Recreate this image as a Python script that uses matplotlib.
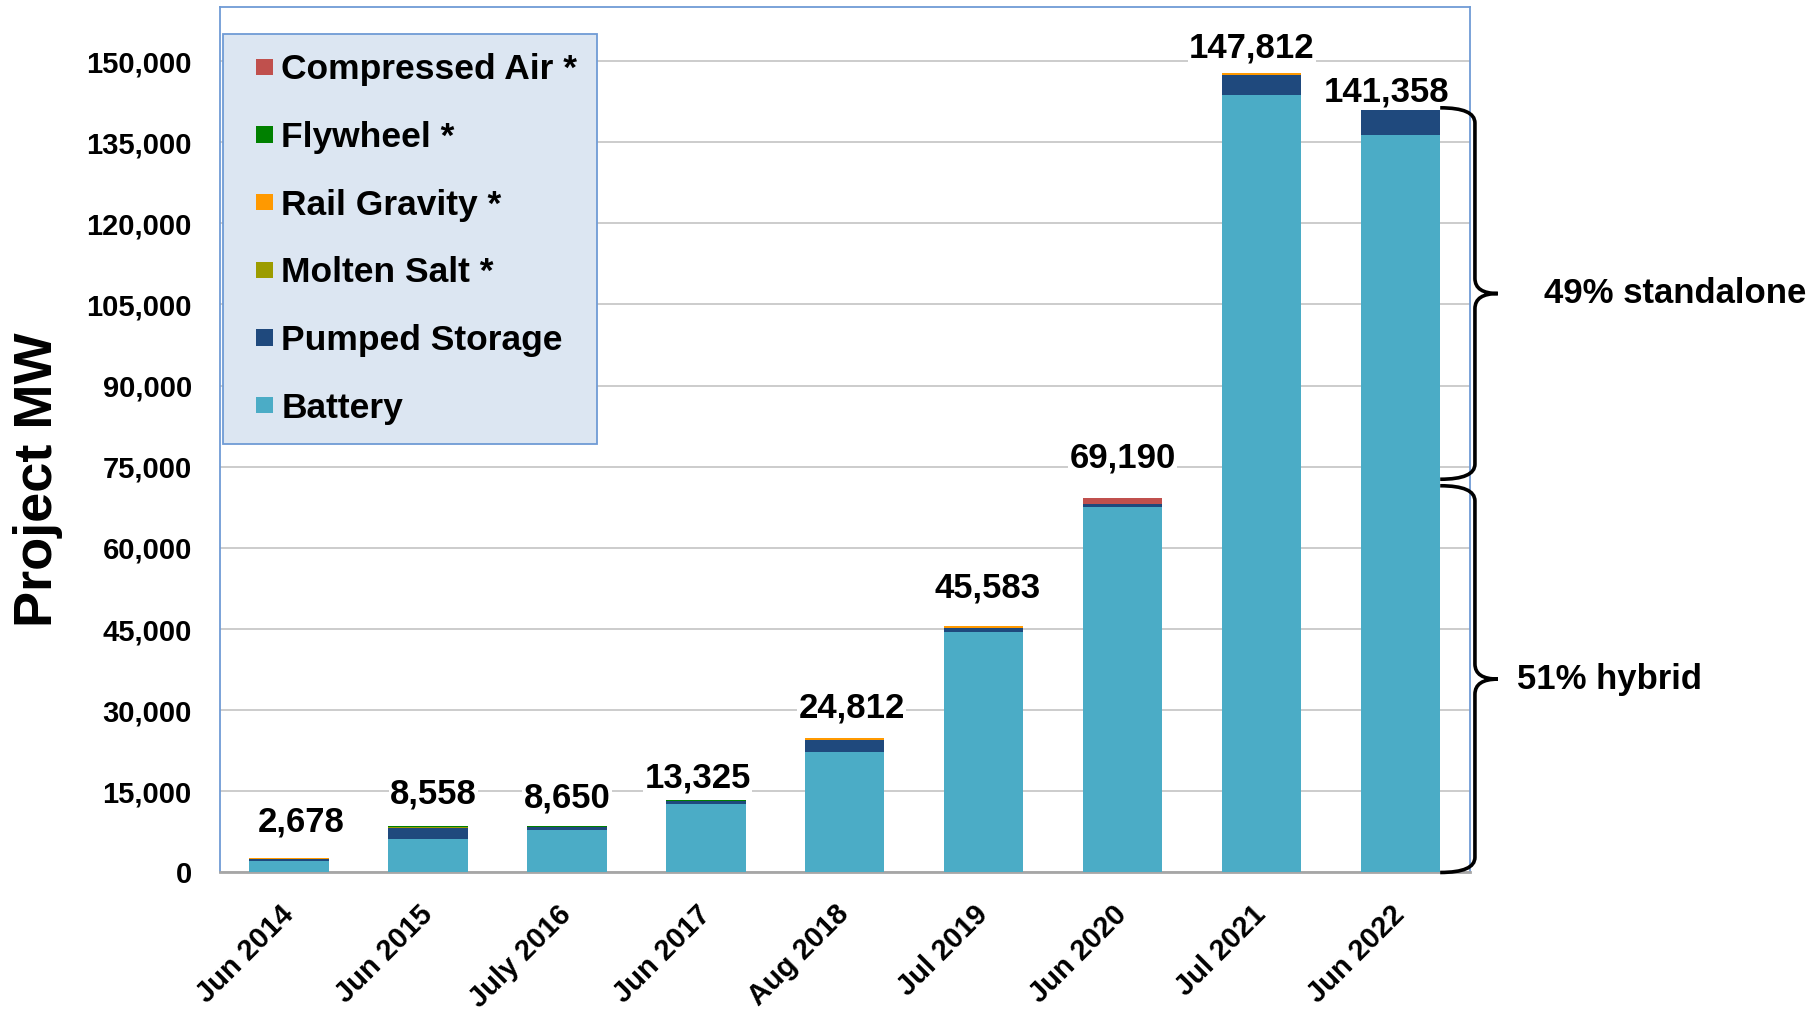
"""Stacked bar chart of energy storage project MW in the interconnection queue"""
import matplotlib.pyplot as plt
import numpy as np
from matplotlib import font_manager
from matplotlib.legend_handler import HandlerPatch
from matplotlib.patches import Patch, PathPatch, Rectangle
from matplotlib.path import Path

# Data
dates = ["Jun 2014", "Jun 2015", "July 2016", "Jun 2017", "Aug 2018",
         "Jul 2019", "Jun 2020", "Jul 2021", "Jun 2022"]
battery = [2130, 6200, 7860, 12600, 22200, 44500, 67630, 143700, 136400]
pumped_storage = [450, 1980, 540, 525, 2300, 750, 560, 3800, 4958]
molten_salt = [0, 200, 0, 0, 0, 0, 0, 0, 0]
rail_gravity = [98, 0, 0, 0, 312, 333, 0, 312, 0]
flywheel = [0, 178, 250, 200, 0, 0, 0, 0, 0]
compressed_air = [0, 0, 0, 0, 0, 0, 1000, 0, 0]
hybrid_share = 0.51
brace_labels = ["49% standalone", "51% hybrid"]

# Stacking order bottom -> top
series = [
    ("Battery", battery, "#4BACC6"),
    ("Pumped Storage", pumped_storage, "#1F497D"),
    ("Molten Salt *", molten_salt, "#9C9C00"),
    ("Rail Gravity *", rail_gravity, "#FF9900"),
    ("Flywheel *", flywheel, "#008000"),
    ("Compressed Air *", compressed_air, "#C0504D"),
]

# Offset (points) of each total label from the top of its bar
label_dx = [9, 4, 0, -6, 5, 3, 0, -7, -10]
label_dy = [26, 23, 20, 16, 22, 27.5, 29, 18, 11.5]

plt.rcParams["font.family"] = ["Liberation Sans", "DejaVu Sans"]
plt.rcParams["font.weight"] = "bold"

# narrow face for the brace notes if it is installed
names_installed = {f.name for f in font_manager.fontManager.ttflist}
if "Liberation Sans Narrow" in names_installed:
    note_font, note_size = ["Liberation Sans Narrow", "Liberation Sans"], 30
else:
    note_font, note_size = ["Liberation Sans", "DejaVu Sans"], 25

fig = plt.figure(figsize=(18.12, 10.09), dpi=100)
ax = fig.add_axes([0.1212, 0.1353, 0.6901, 0.8578])

x = np.arange(len(dates))
width = 0.57
bottom = np.zeros(len(dates))
for name, vals, color in series:
    vals = np.array(vals, dtype=float)
    ax.bar(x, vals, width, bottom=bottom, color=color, label=name, zorder=3)
    bottom += vals
totals = bottom

# Total labels on a white box so they cut the gridlines
for i, tot in enumerate(totals):
    ax.annotate(f"{int(round(tot)):,}", xy=(i, tot), xytext=(label_dx[i], label_dy[i]),
                textcoords="offset points", ha="center", va="center",
                fontsize=25, fontweight="bold", zorder=5,
                bbox=dict(fc="white", ec="none", pad=1))

ax.set_xlim(-0.5, len(dates) - 0.5)
ax.set_ylim(0, 160000)
ax.set_yticks(np.arange(0, 150001, 15000))
ax.set_yticklabels([f"{v:,}" for v in range(0, 150001, 15000)], fontsize=21)
ax.set_xticks(x)
ax.set_xticklabels(dates, rotation=45, ha="right", va="center",
                   rotation_mode="anchor", fontsize=21)
ax.tick_params(axis="x", length=0, pad=27)
ax.tick_params(axis="y", length=0, pad=20)
ax.set_ylabel("Project MW", fontsize=39, fontweight="bold")
ax.yaxis.set_label_coords(-0.125, 0.454)

ax.grid(axis="y", color="#C8C8C8", linewidth=1.3, zorder=0)
ax.set_axisbelow(True)
for side in ["left", "top", "right"]:
    ax.spines[side].set_color("#6F9BD5")
    ax.spines[side].set_linewidth(1.3)
ax.spines["bottom"].set_color("#A6A6A6")
ax.spines["bottom"].set_linewidth(2.0)


# legend square sits at the right end of a wider handle box
def square_handle(legend, orig_handle, xdescent, ydescent, width, height, fontsize):
    s = 0.46 * fontsize
    return Rectangle((width - s - xdescent, (height - s) / 2 - ydescent), s, s)


handles = [Patch(facecolor=c, edgecolor="none") for _, _, c in series][::-1]
names = [n for n, _, _ in series][::-1]
leg = ax.legend(handles, names, loc="upper left", bbox_to_anchor=(0.003, 0.969),
                fontsize=25.5, frameon=True, fancybox=False, framealpha=1,
                facecolor="#DCE6F2", edgecolor="#6F9BD5",
                handler_map={Patch: HandlerPatch(patch_func=square_handle)},
                handlelength=0.84, handleheight=0.46, handletextpad=0.25,
                labelspacing=0.98, borderpad=0.55, borderaxespad=0)
leg.get_frame().set_linewidth(1.3)
leg.set_zorder(6)


def brace(ax, x0, x1, x2, y_lo, y_hi, r):
    ym = (y_lo + y_hi) / 2
    verts = [(x0, y_hi), (x1, y_hi), (x1, y_hi - r), (x1, ym + r),
             (x1, ym), (x2, ym), (x1, ym), (x1, ym - r),
             (x1, y_lo + r), (x1, y_lo), (x0, y_lo)]
    codes = [Path.MOVETO, Path.CURVE3, Path.CURVE3, Path.LINETO,
             Path.CURVE3, Path.CURVE3, Path.CURVE3, Path.CURVE3,
             Path.LINETO, Path.CURVE3, Path.CURVE3]
    ax.add_patch(PathPatch(Path(verts, codes), fc="none", ec="black",
                           lw=2.6, clip_on=False, zorder=6))
    return ym


# Braces on the last bar: standalone on top, hybrid below
last = len(dates) - 1
x0 = last + width / 2
split = hybrid_share * totals[last]
ym_top = brace(ax, x0, 8.535, 8.70, split + 600, totals[last], 2800)
ym_bot = brace(ax, x0, 8.535, 8.70, 0, split - 600, 2800)
ax.text(9.03, ym_top, brace_labels[0], fontsize=note_size, fontweight="bold",
        family=note_font, ha="left", va="center", clip_on=False)
ax.text(8.84, ym_bot, brace_labels[1], fontsize=note_size, fontweight="bold",
        family=note_font, ha="left", va="center", clip_on=False)

plt.savefig("out.png", dpi=100)
plt.close()
